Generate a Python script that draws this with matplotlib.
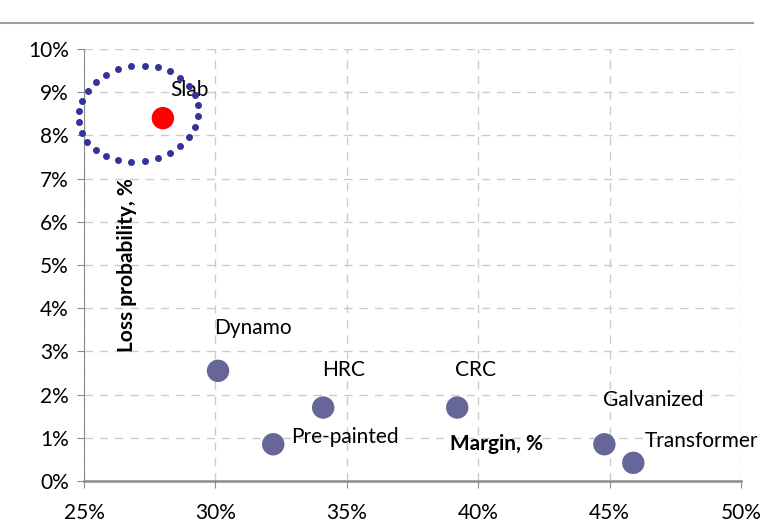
import numpy as np
import matplotlib.pyplot as plt
from matplotlib.lines import Line2D
from matplotlib.ticker import FuncFormatter

plt.rcParams['font.family'] = ['Lato', 'DejaVu Sans']

# Margin vs. loss probability per product
produtos = ['Slab', 'Dynamo', 'Pre-painted', 'HRC', 'CRC', 'Galvanized', 'Transformer']
margem = [28.0, 30.1, 32.2, 34.1, 39.2, 44.8, 45.9]
perda = [8.4, 2.55, 0.85, 1.7, 1.7, 0.85, 0.42]
cores = ['#ff0000', '#666699', '#666699', '#666699', '#666699', '#666699', '#666699']

# label offsets in points (dx, dy) and alignment
rotulos = {
    'Slab': (19, 20, 'center'),
    'Dynamo': (25, 31, 'center'),
    'Pre-painted': (13, 5, 'left'),
    'HRC': (15, 27, 'center'),
    'CRC': (13, 27, 'center'),
    'Galvanized': (35, 32, 'center'),
    'Transformer': (8, 16, 'left'),
}

fig = plt.figure(figsize=(7.78, 5.26), dpi=100)
ax = fig.add_axes([0.108, 0.0856, 0.8445, 0.8212])

ax.scatter(margem, perda, s=260, c=cores, edgecolors='none', zorder=3)

for nome, x, y in zip(produtos, margem, perda):
    dx, dy, ha = rotulos[nome]
    ax.annotate(nome, (x, y), xytext=(dx, dy), textcoords='offset points',
                ha=ha, va='center', fontsize=15, color='black')

# dotted circle around Slab
px_x = 26.26  # pixels per 1% on x
px_y = 43.2   # pixels per 1% on y
t = np.linspace(0, 2 * np.pi, 29)[:-1]
a = np.deg2rad(8)
rx, ry = 60, 48
ex = 27.06 + (rx * np.cos(t) * np.cos(a) - ry * np.sin(t) * np.sin(a)) / px_x
ey = 8.5 + (rx * np.cos(t) * np.sin(a) + ry * np.sin(t) * np.cos(a)) / px_y
ax.plot(ex, ey, ls='none', marker='o', ms=4, color='#333399', zorder=4, clip_on=False)

ax.set_xlim(25, 50)
ax.set_ylim(0, 10)
ax.set_xticks(np.arange(25, 51, 5))
ax.set_yticks(np.arange(0, 11, 1))
fmt = FuncFormatter(lambda v, p: f'{v:.0f}%')
ax.xaxis.set_major_formatter(fmt)
ax.yaxis.set_major_formatter(fmt)

ax.grid(True, ls=(0, (6, 5)), color='#cccccc', lw=1)
ax.set_axisbelow(True)
for lado in ['top', 'right']:
    ax.spines[lado].set_visible(False)
ax.spines['left'].set_color('#8c8c8c')
ax.spines['bottom'].set_color('#8c8c8c')
ax.spines['bottom'].set_linewidth(1.8)
ax.tick_params(axis='both', direction='out', color='#8c8c8c', length=5, labelsize=15)
ax.tick_params(axis='x', pad=11)
ax.tick_params(axis='y', pad=6)

ax.text(496, 526 - 444, 'Margin, %', transform=None, fontsize=15, fontweight='bold',
        ha='center', va='center')
fig.text(127 / 778, 1 - 265 / 526, 'Loss probability, %', rotation=90, fontsize=15,
         fontweight='bold', ha='center', va='center')

# top rule
fig.add_artist(Line2D([0, 753 / 778], [1 - 23 / 526] * 2, color='#a0a0a0', lw=1.5))

fig.savefig('out.png', dpi=100)
